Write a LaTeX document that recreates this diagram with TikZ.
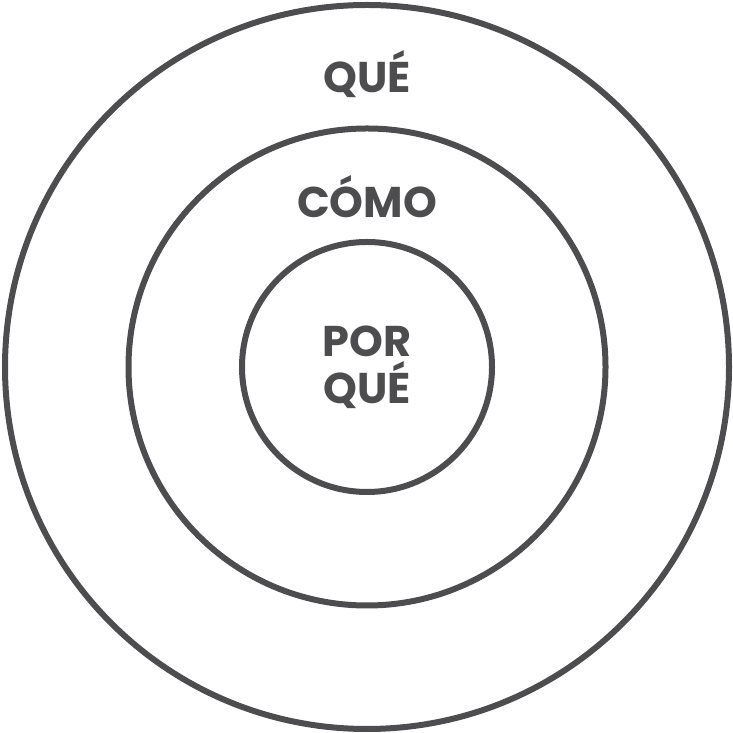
\documentclass[tikz,border=0pt]{standalone}
\usepackage{fontspec}
\setmainfont{Poppins}
\definecolor{ringcolor}{HTML}{4D4D4F}
\usetikzlibrary{math}

\begin{document}
\begin{tikzpicture}[x=1pt, y=1pt]

    \tikzset{%
        ring/.style={draw=ringcolor, line width=6pt},
        word/.style={text=ringcolor, font=\fontsize{43}{46}\selectfont\bfseries, anchor=base, inner sep=0pt},
    }

    \tikzmath{%
        \cx=367;
        \cy=366;
        \rOuter=362;
        \rMiddle=238.5;
        \rInner=125;
    };

    \useasboundingbox (0, 0) rectangle (733, 733);

    % rings
    \draw [ring] (\cx, \cy) circle (\rOuter);
    \draw [ring] (\cx, \cy) circle (\rMiddle);
    \draw [ring] (\cx, \cy) circle (\rInner);

    % labels
    \node [word] (que) at (\cx, 640) {QUÉ};
    \node [word] (como) at (\cx, 515) {CÓMO};
    \node [word] (por) at (\cx, 376) {POR};
    \node [word] (porque) at (\cx, 329) {QUÉ};

\end{tikzpicture}
\end{document}
